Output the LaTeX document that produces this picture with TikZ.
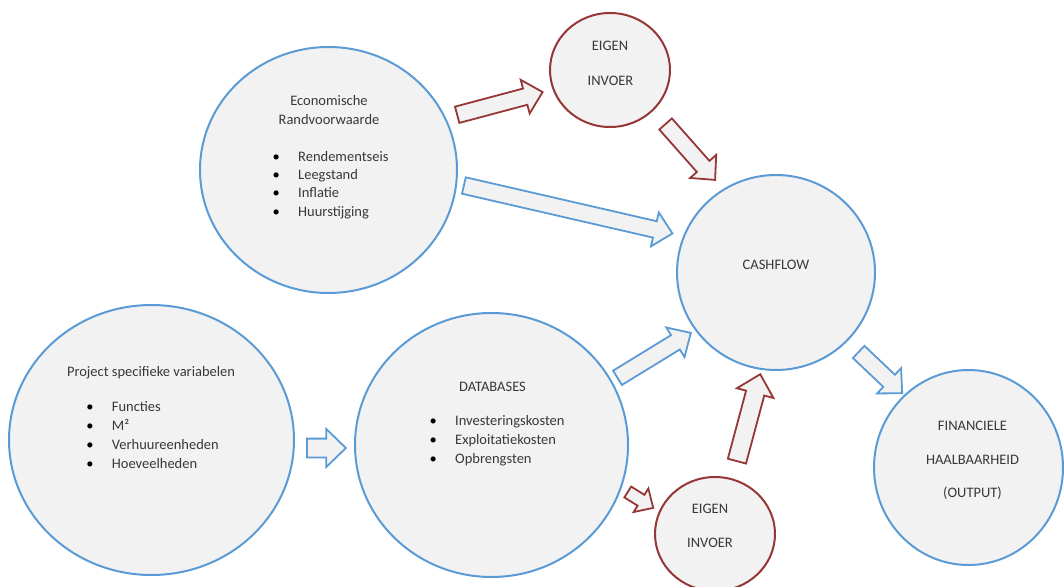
\documentclass[tikz,border=0pt]{standalone}
\usepackage{fontspec}
\setmainfont{Carlito}
\usetikzlibrary{shapes.geometric,shapes.arrows}
\definecolor{ringblue}{RGB}{91,155,213}
\definecolor{ringred}{RGB}{149,55,53}
\definecolor{ringfill}{RGB}{242,242,242}
\definecolor{txtgray}{RGB}{56,56,56}

\begin{document}
\begin{tikzpicture}[x=1pt, y=-1pt] %Financiele haalbaarheid
	\tikzstyle{bubble} = [ellipse, line width=2pt, fill=ringfill, inner sep=0pt]
	\tikzstyle{bluebubble} = [bubble, draw=ringblue]
	\tikzstyle{redbubble} = [bubble, draw=ringred]
	\tikzstyle{blockarrow} = [single arrow, line width=1.8pt, fill=ringfill, inner sep=7.5pt, single arrow head extend=9pt, single arrow tip angle=88, anchor=tail]
	\tikzstyle{txt} = [font=\fontsize{14.5}{17}\selectfont, text=txtgray, inner sep=0pt, anchor=base]
	\tikzstyle{item} = [txt, anchor=base west]
	\useasboundingbox (0,0) rectangle (1064,586);

	% cirkels
	\node[bluebubble, minimum width=257pt, minimum height=246pt] (eco) at (328.5,170) {};
	\node[redbubble, minimum width=120pt, minimum height=114pt] (eigtop) at (610,70) {};
	\node[bluebubble, minimum width=198pt, minimum height=195pt] (cash) at (776,272.5) {};
	\node[bluebubble, minimum width=285pt, minimum height=270pt] (proj) at (151.5,440) {};
	\node[bluebubble, minimum width=273pt, minimum height=264pt] (db) at (491.5,445) {};
	\node[redbubble, minimum width=120pt, minimum height=114pt] (eigbot) at (715,534) {};
	\node[bluebubble, minimum width=189pt, minimum height=195pt] (fin) at (968.5,467.5) {};

	% teksten
	\node[txt] (ecoT1) at (329,105) {Economische};
	\node[txt] (ecoT2) at (329,124) {Randvoorwaarde};
	\foreach \name/\y [count=\i] in {Rendementseis/161, Leegstand/179.3, Inflatie/197.6, Huurstijging/216}
	{
		\node[item] (eco-\i) at (298,\y) {\llap{\textcolor{black}{\textbullet}\hspace{18.4pt}}\name};
	}
	\node[txt] (projT) at (151,376) {Project specifieke variabelen};
	\foreach \name/\y [count=\i] in {Functies/411, M²/430, Verhuureenheden/449, Hoeveelheden/468}
	{
		\node[item] (proj-\i) at (111.7,\y) {\llap{\textcolor{black}{\textbullet}\hspace{18.4pt}}\name};
	}
	\node[txt] (dbT) at (492.5,391) {DATABASES};
	\foreach \name/\y [count=\i] in {Investeringskosten/425, Exploitatiekosten/444, Opbrengsten/463}
	{
		\node[item] (db-\i) at (455,\y) {\llap{\textcolor{black}{\textbullet}\hspace{18.4pt}}\name};
	}
	\node[txt] (eigtopT1) at (610,51) {EIGEN};
	\node[txt] (eigtopT2) at (610.5,85.7) {INVOER};
	\node[txt] (eigbotT1) at (710,513) {EIGEN};
	\node[txt] (eigbotT2) at (710,547.7) {INVOER};
	\node[txt] (cashT) at (776,269) {CASHFLOW};
	\node[txt] (finT1) at (972.5,430) {FINANCIELE};
	\node[txt] (finT2) at (972.5,464) {HAALBAARHEID};
	\node[txt] (finT3) at (972.5,497.7) {(OUTPUT)};

	% pijlen
	\node[blockarrow, draw=ringred, rotate=14.9, minimum height=88.4pt] (ecoToEig) at (456.3,115) {};
	\node[blockarrow, draw=ringred, rotate=-48.5, minimum height=74.7pt] (eigToCash) at (665,123.3) {};
	\node[blockarrow, draw=ringblue, rotate=-12.95, minimum height=214pt] (ecoToCash) at (463,185.3) {};
	\node[blockarrow, draw=ringblue, rotate=31.5, minimum height=86pt] (dbToCash) at (616.7,378.3) {};
	\node[blockarrow, draw=ringred, rotate=-32, minimum height=30pt, inner sep=5.5pt, single arrow head extend=7.5pt] (dbToEig) at (627,491.5) {};
	\node[blockarrow, draw=ringred, rotate=75, minimum height=90pt, inner sep=8.5pt, single arrow head extend=9.5pt] (eigToCash2) at (736.7,462) {};
	\node[blockarrow, draw=ringblue, rotate=-43.5, minimum height=60pt] (cashToFin) at (858,351.3) {};
	\node[blockarrow, draw=ringblue, minimum height=39pt, inner sep=8.5pt, single arrow head extend=9.5pt] (projToDb) at (306,448) {};
\end{tikzpicture}
\end{document}
